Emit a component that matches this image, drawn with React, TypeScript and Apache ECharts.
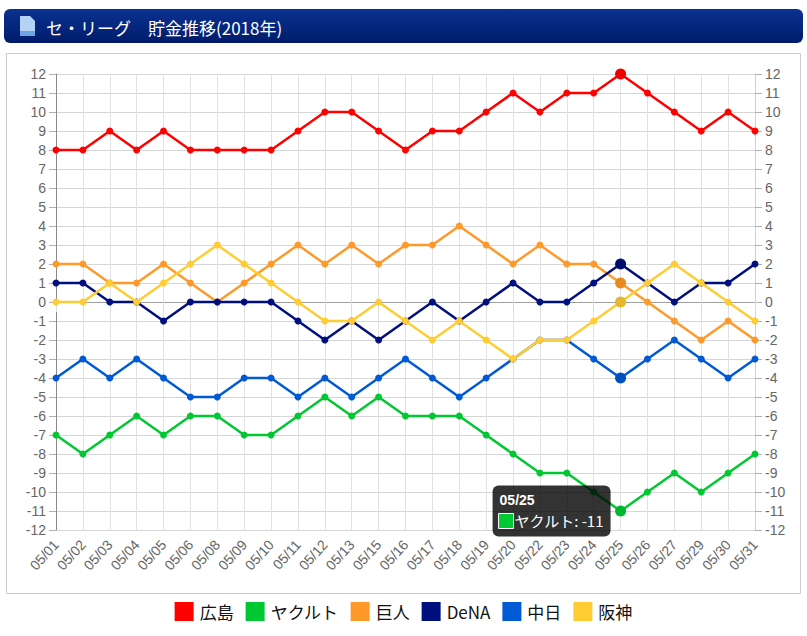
import React, { useEffect, useRef } from "react";
import * as echarts from "echarts";

const categories = [
  "05/01", "05/02", "05/03", "05/04", "05/05", "05/06", "05/08", "05/09", "05/10",
  "05/11", "05/12", "05/13", "05/15", "05/16", "05/17", "05/18", "05/19", "05/20",
  "05/22", "05/23", "05/24", "05/25", "05/26", "05/27", "05/29", "05/30", "05/31",
];

const teamNames = ["広島", "ヤクルト", "巨人", "DeNA", "中日", "阪神"];
const teamColors = ["#ff0000", "#00c832", "#ff9a2a", "#000f80", "#005ad6", "#ffcc33"];
const hoverColors = ["#ee0000", "#00b82e", "#e88a1e", "#000c70", "#0050c0", "#e8b72c"];

const hiroshima = [8, 8, 9, 8, 9, 8, 8, 8, 8, 9, 10, 10, 9, 8, 9, 9, 10, 11, 10, 11, 11, 12, 11, 10, 9, 10, 9];
const yakult = [-7, -8, -7, -6, -7, -6, -6, -7, -7, -6, -5, -6, -5, -6, -6, -6, -7, -8, -9, -9, -10, -11, -10, -9, -10, -9, -8];
const giants = [2, 2, 1, 1, 2, 1, 0, 1, 2, 3, 2, 3, 2, 3, 3, 4, 3, 2, 3, 2, 2, 1, 0, -1, -2, -1, -2];
const dena = [1, 1, 0, 0, -1, 0, 0, 0, 0, -1, -2, -1, -2, -1, 0, -1, 0, 1, 0, 0, 1, 2, 1, 0, 1, 1, 2];
const chunichi = [-4, -3, -4, -3, -4, -5, -5, -4, -4, -5, -4, -5, -4, -3, -4, -5, -4, -3, -2, -2, -3, -4, -3, -2, -3, -4, -3];
const hanshin = [0, 0, 1, 0, 1, 2, 3, 2, 1, 0, -1, -1, 0, -1, -2, -1, -2, -3, -2, -2, -1, 0, 1, 2, 1, 0, -1];

const seriesValues = [hiroshima, yakult, giants, dena, chunichi, hanshin];

const yTicks = [-12, -11, -10, -9, -8, -7, -6, -5, -4, -3, -2, -1, 0, 1, 2, 3, 4, 5, 6, 7, 8, 9, 10, 11, 12];

const hoverIndex = 21; // 05/25
const tooltipSeries = 1; // ヤクルト

const TITLE = "セ・リーグ　貯金推移(2018年)";
const FONT = "'Liberation Sans', Arial, sans-serif";
const JFONT = "'Noto Sans CJK JP', 'Liberation Sans', sans-serif";

export default function App() {
  const ref = useRef<HTMLDivElement>(null);

  useEffect(() => {
    if (!ref.current) return;
    const chart = echarts.init(ref.current, null, { renderer: "svg" });

    const splitColors = yTicks.map((v) => (v === 0 ? "#8a8a8a" : "#d6d6d6"));

    const series = seriesValues.map((vals, si) => ({
      name: teamNames[si],
      type: "line",
      yAxisIndex: 0,
      data: vals.map((v, i) =>
        i === hoverIndex
          ? { value: v, symbolSize: 11, itemStyle: { color: hoverColors[si] } }
          : v
      ),
      symbol: "circle",
      symbolSize: 7,
      showSymbol: true,
      lineStyle: { width: 2.5, color: teamColors[si] },
      itemStyle: { color: teamColors[si] },
      z: 3 + si,
    }));

    const baseGraphic: any[] = [
      {
        type: "rect",
        shape: { x: 4, y: 9, width: 799, height: 34, r: 6 },
        style: {
          fill: new echarts.graphic.LinearGradient(0, 0, 0, 1, [
            { offset: 0, color: "#0a3291" },
            { offset: 1, color: "#001c6a" },
          ]),
        },
        z: 1,
      },
      {
        type: "polygon",
        shape: { points: [[20, 16], [30, 16], [35, 21], [35, 36], [20, 36]] },
        style: { fill: "#b4d2f4" },
        z: 2,
      },
      {
        type: "rect",
        shape: { x: 20, y: 31, width: 15, height: 5 },
        style: { fill: "#6fa4e4" },
        z: 3,
      },
      {
        type: "text",
        x: 46,
        y: 27,
        style: {
          text: TITLE,
          fill: "#ffffff",
          font: `17px ${JFONT}`,
          verticalAlign: "middle",
        },
        z: 3,
      },
      {
        type: "rect",
        shape: { x: 6.5, y: 53.5, width: 794, height: 540 },
        style: { fill: "#ffffff", stroke: "#cccccc", lineWidth: 1 },
        z: -10,
        silent: true,
      },
    ];

    const option: any = {
      animation: false,
      backgroundColor: "#ffffff",
      grid: { left: 56, right: 52, top: 74, bottom: 106, containLabel: false },
      legend: {
        data: teamNames,
        bottom: 10,
        left: "center",
        icon: "rect",
        itemWidth: 19,
        itemHeight: 19,
        itemGap: 12,
        textStyle: { fontSize: 17, color: "#111", fontFamily: JFONT, padding: [0, 0, 0, 1] },
        selectedMode: false,
      },
      xAxis: {
        type: "category",
        data: categories,
        boundaryGap: false,
        axisLine: { show: true, lineStyle: { color: "#a0a0a0" } },
        axisTick: { show: true, length: 10, lineStyle: { color: "#dcdcdc" } },
        splitLine: { show: true, lineStyle: { color: "#e2e2e2", width: 1 } },
        axisLabel: {
          interval: 0,
          rotate: 48,
          fontSize: 14,
          color: "#666",
          fontFamily: FONT,
          margin: 12,
        },
      },
      yAxis: [
        {
          type: "value",
          position: "left",
          min: -12,
          max: 12,
          interval: 1,
          axisLine: { show: true, lineStyle: { color: "#8a8a8a" } },
          axisTick: { show: true, length: 7, lineStyle: { color: "#b0b0b0" } },
          splitLine: { show: true, lineStyle: { color: splitColors, width: 1 } },
          axisLabel: { fontSize: 14, color: "#666", fontFamily: FONT, margin: 10 },
        },
        {
          type: "value",
          position: "right",
          min: -12,
          max: 12,
          interval: 1,
          axisLine: { show: true, lineStyle: { color: "#d0d0d0" } },
          axisTick: { show: true, length: 7, lineStyle: { color: "#b0b0b0" } },
          splitLine: { show: false },
          axisLabel: { fontSize: 14, color: "#666", fontFamily: FONT, margin: 10 },
        },
      ],
      series,
      graphic: baseGraphic,
    };

    chart.setOption(option);

    // Tooltip box anchored at the hovered point
    const pt = chart.convertToPixel({ gridIndex: 0 } as any, [
      categories[hoverIndex],
      seriesValues[tooltipSeries][hoverIndex],
    ]) as number[];
    const tw = 118;
    const th = 51;
    const tx = pt[0] - 10 - tw;
    const ty = pt[1] - th / 2;
    const tipGraphic = [
      {
        type: "rect",
        shape: { x: tx, y: ty, width: tw, height: th, r: 6 },
        style: { fill: "rgba(0,0,0,0.8)" },
        z: 100,
        silent: true,
      },
      {
        type: "text",
        x: tx + 7,
        y: ty + 14,
        style: {
          text: categories[hoverIndex],
          fill: "#ffffff",
          font: `bold 14px ${FONT}`,
          verticalAlign: "middle",
        },
        z: 101,
      },
      {
        type: "rect",
        shape: { x: tx + 6, y: ty + 28, width: 15, height: 15 },
        style: { fill: teamColors[tooltipSeries], stroke: "#ffffff", lineWidth: 1 },
        z: 101,
      },
      {
        type: "text",
        x: tx + 22,
        y: ty + 35,
        style: {
          text: `${teamNames[tooltipSeries]}: ${seriesValues[tooltipSeries][hoverIndex]}`,
          fill: "#ffffff",
          font: `15px ${JFONT}`,
          verticalAlign: "middle",
        },
        z: 101,
      },
    ];

    chart.setOption({ graphic: [...baseGraphic, ...tipGraphic] }, { replaceMerge: ["graphic"] } as any);

    return () => chart.dispose();
  }, []);

  return (
    <div
      ref={ref}
      style={{ position: "absolute", left: 0, top: 0, width: 807, height: 636 }}
    />
  );
}
